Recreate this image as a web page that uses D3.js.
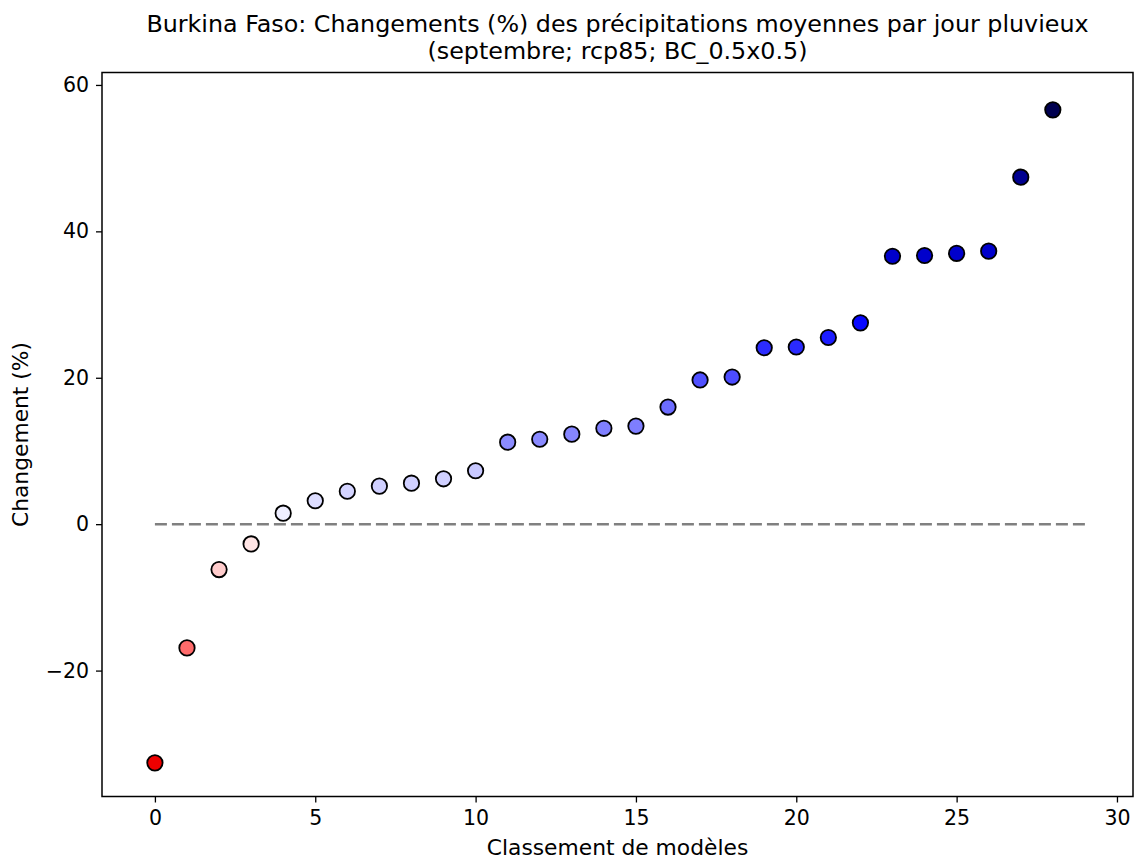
<!DOCTYPE html>
<html>
<head>
<meta charset="utf-8">
<script src="https://cdn.jsdelivr.net/npm/d3@7"></script>
<style>
  html, body { margin: 0; padding: 0; background: #fff; }
  svg text { font-family: "DejaVu Sans", sans-serif; fill: #000; }
</style>
</head>
<body>
<svg id="chart" width="1135" height="861"></svg>
<script>
// Model ranks and their projected change (%) in mean precipitation per rainy day
const ranks = d3.range(29);
const changes = [
  -32.6, -16.9, -6.2, -2.7, 1.5, 3.2, 4.5, 5.2, 5.6, 6.2, 7.3,
  11.2, 11.6, 12.3, 13.1, 13.4, 16.0, 19.7, 20.1, 24.1, 24.2,
  25.5, 27.5, 36.6, 36.7, 37.0, 37.3, 47.4, 56.6
];
const pointColors = [
  "#ee0000", "#ff6b6b", "#ffcccc", "#ffe4e4", "#eeeeff", "#ddddff",
  "#d4d4ff", "#d0d0ff", "#d0d0ff", "#d0d0ff", "#c8c8ff",
  "#8c8cff", "#8a8aff", "#8686ff", "#8080ff", "#7e7eff", "#6c6cff",
  "#5050ff", "#4c4cff", "#2c2cff", "#2a2aff", "#1c1cff", "#0808ff",
  "#0000cc", "#0000cc", "#0000cc", "#0000cc", "#000090", "#000050"
];
const xTicks = [0, 5, 10, 15, 20, 25, 30];
const yTicks = [-20, 0, 20, 40, 60];
const titleLines = [
  "Burkina Faso: Changements (%) des précipitations moyennes par jour pluvieux",
  "(septembre; rcp85; BC_0.5x0.5)"
];
const xLabel = "Classement de modèles";
const yLabel = "Changement (%)";

const svg = d3.select("#chart");
const plotLeft = 102, plotRight = 1133, plotTop = 72.5, plotBottom = 796.5;

const x = d3.scaleLinear().domain([-1.65, 30.5]).range([plotLeft, plotRight]);
const y = d3.scaleLinear().domain([-37.2, 61.7]).range([plotBottom, plotTop]);

// Zero reference line
svg.append("line")
  .attr("x1", x(0)).attr("x2", x(29))
  .attr("y1", y(0)).attr("y2", y(0))
  .attr("stroke", "#808080")
  .attr("stroke-width", 2.6)
  .attr("stroke-dasharray", "12,5");

// Points
svg.append("g").selectAll("circle")
  .data(ranks)
  .join("circle")
  .attr("cx", d => x(d))
  .attr("cy", d => y(changes[d]))
  .attr("r", 7.7)
  .attr("fill", d => pointColors[d])
  .attr("stroke", "#000")
  .attr("stroke-width", 1.8);

// Axes
const xAxis = svg.append("g")
  .attr("transform", `translate(0,${plotBottom})`)
  .call(d3.axisBottom(x).tickValues(xTicks).tickSize(6).tickPadding(8).tickFormat(d3.format("d")));
const yAxis = svg.append("g")
  .attr("transform", `translate(${plotLeft},0)`)
  .call(d3.axisLeft(y).tickValues(yTicks).tickSize(6).tickPadding(7)
    .tickFormat(d => d < 0 ? "\u2212" + Math.abs(d) : d));

[xAxis, yAxis].forEach(g => {
  g.select(".domain").remove();
  g.selectAll(".tick line").attr("stroke", "#000").attr("stroke-width", 1.3);
  g.selectAll(".tick text").attr("font-size", 20.5).attr("font-family", "DejaVu Sans");
});

// Frame
svg.append("rect")
  .attr("x", plotLeft).attr("y", plotTop)
  .attr("width", plotRight - plotLeft).attr("height", plotBottom - plotTop)
  .attr("fill", "none").attr("stroke", "#000").attr("stroke-width", 1.5);

// Titles
svg.append("g").selectAll("text")
  .data(titleLines)
  .join("text")
  .attr("x", (plotLeft + plotRight) / 2)
  .attr("y", (d, i) => 32 + i * 27)
  .attr("text-anchor", "middle")
  .attr("font-size", 23.8)
  .text(d => d);

svg.append("text")
  .attr("x", (plotLeft + plotRight) / 2)
  .attr("y", 855)
  .attr("text-anchor", "middle")
  .attr("font-size", 21.8)
  .text(xLabel);

svg.append("text")
  .attr("transform", `translate(28,${(plotTop + plotBottom) / 2}) rotate(-90)`)
  .attr("text-anchor", "middle")
  .attr("font-size", 21.8)
  .text(yLabel);
</script>
</body>
</html>
